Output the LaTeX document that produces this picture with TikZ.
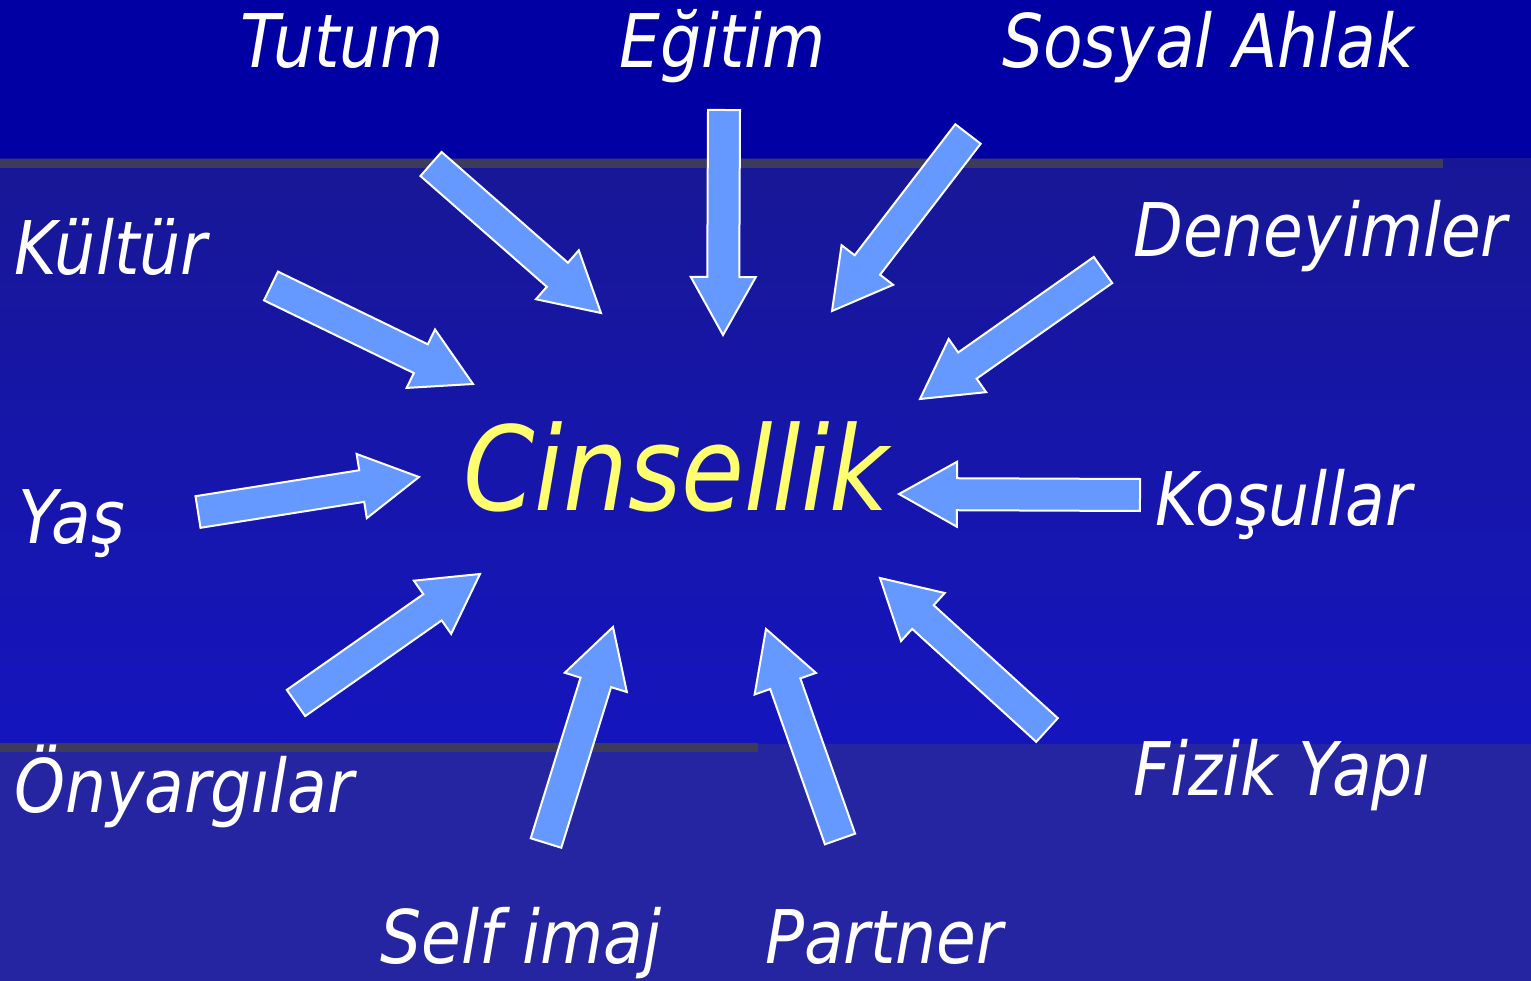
\documentclass[tikz,border=0pt]{standalone}
\usepackage{fontspec}
\setmainfont{DejaVu Sans}[FakeStretch=0.875]
\usetikzlibrary{calc}

\definecolor{topband}{RGB}{0,0,163}
\definecolor{midtop}{RGB}{23,23,150}
\definecolor{midbottom}{RGB}{21,21,190}
\definecolor{botband}{RGB}{37,37,162}
\definecolor{rulegray}{RGB}{60,60,90}
\definecolor{arrowblue}{RGB}{102,153,255}
\definecolor{titleyellow}{RGB}{255,255,112}

\tikzset{
  factor/.style={anchor=base west, inner sep=0pt, text=white,
    font=\fontsize{74}{80}\selectfont\itshape},
  center/.style={anchor=base west, inner sep=0pt, text=titleyellow,
    font=\fontsize{117}{125}\selectfont\itshape},
  blockarrow/.style={fill=arrowblue, draw=white, line width=2pt, line join=miter}
}

\newcommand{\bigarrow}[2]{%
  \coordinate (hb) at ($(#2)!58pt!(#1)$);
  \draw[blockarrow] ($(#1)!16pt!90:(#2)$) -- ($(hb)!16pt!90:(#2)$)
    -- ($(hb)!32.5pt!90:(#2)$) -- (#2) -- ($(hb)!32.5pt!-90:(#2)$)
    -- ($(hb)!16pt!-90:(#2)$) -- ($(#1)!16pt!-90:(#2)$) -- cycle;}

\begin{document}
\begin{tikzpicture}[x=1pt, y=-1pt]
	\useasboundingbox (0,0) rectangle (1531,981);
	\fill[topband] (0,0) rectangle (1531,159);
	\fill[top color=midtop, bottom color=midbottom] (0,159) rectangle (1531,744);
	\fill[botband] (0,744) rectangle (1531,981);
	\fill[rulegray] (0,159) rectangle (1443,168);
	\fill[rulegray] (0,743) rectangle (758,752);

	\node[center] (cinsellik) at (463,510) {Cinsellik};

	\node[factor] (tutum) at (240,68) {Tutum};
	\node[factor] (egitim) at (619,68) {Eğitim};
	\node[factor] (ahlak) at (1002,68) {Sosyal Ahlak};
	\node[factor] (kultur) at (14,275) {Kültür};
	\node[factor] (deneyim) at (1133,257) {Deneyimler};
	\node[factor] (yas) at (18,543) {Yaş};
	\node[factor] (kosul) at (1155,525) {Koşullar};
	\node[factor] (onyargi) at (14,812) {Önyargılar};
	\node[factor] (fizik) at (1133,795) {Fizik Yapı};
	\node[factor] (self) at (380,963) {Self imaj};
	\node[factor] (partner) at (765,963) {Partner};

	\coordinate (tutum-a) at (431,164);   \coordinate (tutum-b) at (601,313);
	\coordinate (egitim-a) at (724,110);  \coordinate (egitim-b) at (723,335);
	\coordinate (ahlak-a) at (968,134);   \coordinate (ahlak-b) at (832,311);
	\coordinate (deneyim-a) at (1103,270); \coordinate (deneyim-b) at (920,399);
	\coordinate (kultur-a) at (271,286);  \coordinate (kultur-b) at (473,384);
	\coordinate (yas-a) at (198,512);     \coordinate (yas-b) at (419,477);
	\coordinate (kosul-a) at (1140,495);  \coordinate (kosul-b) at (899,494);
	\coordinate (onyargi-a) at (296,703); \coordinate (onyargi-b) at (480,574);
	\coordinate (self-a) at (546,843);    \coordinate (self-b) at (613,627);
	\coordinate (partner-a) at (840,839); \coordinate (partner-b) at (766,629);
	\coordinate (fizik-a) at (1047,730);  \coordinate (fizik-b) at (880,578);

	\foreach \f in {tutum,egitim,ahlak,deneyim,kultur,yas,kosul,onyargi,self,partner,fizik}
		\bigarrow{\f-a}{\f-b};
\end{tikzpicture}
\end{document}
